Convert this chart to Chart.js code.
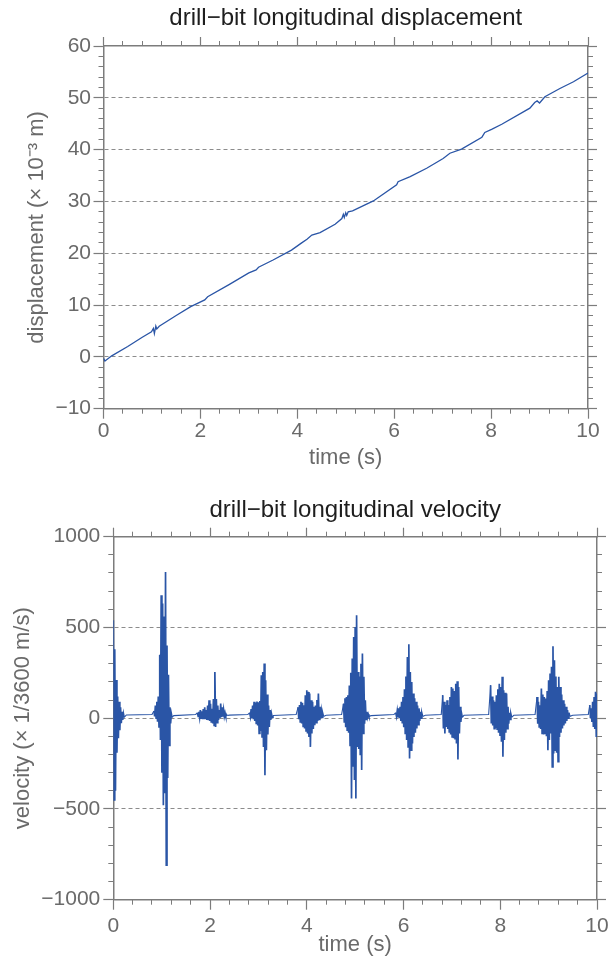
<!DOCTYPE html>
<html><head><meta charset="utf-8">
<script src="https://cdn.jsdelivr.net/npm/chart.js@4"></script>
<style>html,body{margin:0;padding:0;background:#fff;}canvas{display:block;}</style>
</head><body>
<canvas id="c1" width="609" height="480"></canvas>
<canvas id="c2" width="609" height="480"></canvas>
<script>
// ---------- displacement (x 10^-3 m) vs time (s) ----------
const dispTime  = [0, 0.03, 0.17, 0.5, 0.8, 0.99, 1.03, 1.05, 1.08, 1.1, 1.15, 1.5, 1.8, 2.09, 2.15, 2.6, 3.0, 3.15, 3.2, 3.5, 3.88, 4.09, 4.2, 4.3, 4.47, 4.78, 4.92, 4.95, 4.97, 5.0, 5.02, 5.05, 5.14, 5.57, 6.05, 6.08, 6.33, 6.67, 7.01, 7.15, 7.39, 7.81, 7.87, 8.01, 8.22, 8.8, 8.9, 8.95, 9.0, 9.11, 9.42, 9.7, 10.0];
const dispValue = [-0.3, -0.8, 0.2, 2.0, 3.8, 4.85, 5.5, 4.5, 5.95, 5.4, 5.9, 8.0, 9.7, 11.0, 11.6, 14.0, 16.2, 16.8, 17.3, 18.7, 20.6, 22.0, 22.7, 23.5, 24.0, 25.6, 26.7, 27.5, 26.9, 27.8, 27.3, 28.0, 28.2, 30.1, 33.2, 33.8, 34.8, 36.4, 38.3, 39.3, 40.1, 42.4, 43.3, 43.9, 44.9, 48.0, 49.1, 49.4, 49.0, 50.2, 51.8, 53.1, 54.8];

// ---------- velocity (x 1/3600 m/s): envelope of each vibration burst ----------
const sampleStep = 0.03;
const burstStart = [0.0, 0.84, 1.74, 2.82, 3.82, 4.76, 5.84, 6.81, 7.80, 8.76, 9.85];
const burstHigh = [
  [540, 380, 210, 120, 90, 60, 35, 25],
  [40, 70, 90, 120, 350, 678, 632, 560, 806, 400, 240, 60, 25],
  [30, 35, 45, 38, 50, 60, 45, 70, 99, 80, 52, 105, 255, 105, 70, 45, 81, 60, 45, 30, 18],
  [30, 50, 70, 90, 85, 92, 88, 95, 237, 255, 301, 209, 130, 70, 45, 25],
  [60, 72, 90, 85, 72, 127, 154, 145, 136, 99, 90, 63, 70, 100, 136, 63, 40, 26],
  [80, 110, 117, 127, 180, 250, 329, 448, 503, 567, 255, 230, 300, 356, 228, 99, 35, 22],
  [30, 40, 55, 63, 90, 117, 160, 230, 337, 408, 255, 200, 136, 110, 90, 70, 54, 35, 26],
  [127, 90, 72, 99, 72, 117, 172, 163, 150, 190, 204, 172, 63, 26],
  [182, 120, 99, 90, 127, 160, 190, 172, 228, 154, 140, 136, 63, 30, 22],
  [117, 90, 72, 163, 130, 117, 108, 150, 209, 246, 283, 397, 319, 230, 172, 228, 172, 130, 99, 80, 63, 45, 30],
  [72, 54, 90, 117, 145, 136]
];
const burstLow = [
  [-450, -400, -190, -110, -66, -28, -10, 5],
  [10, 0, -20, -48, -120, -300, -479, -414, -810, -330, -150, -29, 5],
  [10, 5, 0, -5, -6, -5, -10, -11, -15, -20, -29, -40, -48, -25, -10, 0, 5, 8, 10, 12, 15],
  [10, 0, -6, -15, -29, -40, -84, -70, -103, -158, -314, -176, -90, -48, -10, 5],
  [-6, -20, -29, -45, -57, -70, -84, -103, -158, -84, -60, -39, -25, -15, -6, 0, 5, 10],
  [-20, -50, -66, -80, -150, -443, -268, -341, -443, -158, -170, -200, -286, -84, -30, -6, 5, 10],
  [10, 5, 0, -15, -29, -50, -84, -120, -158, -222, -176, -140, -103, -80, -57, -35, -15, 0, 10],
  [-57, -84, -48, -60, -75, -90, -103, -110, -112, -139, -228, -84, -20, 5],
  [-29, -40, -57, -55, -60, -80, -94, -130, -213, -120, -80, -57, -30, -6, 5],
  [-30, -48, -60, -84, -90, -84, -100, -176, -120, -84, -268, -194, -176, -190, -240, -103, -80, -57, -40, -29, -15, 0, 10],
  [0, -20, -48, -60, -103, -80]
];
const quietTime = [0.27, 0.8, 1.25, 1.7, 2.4, 2.78, 3.3, 3.78, 4.4, 4.72, 5.33, 5.8, 6.45, 6.78, 7.25, 7.76, 8.28, 8.72, 9.5, 9.82];
const quietVel  = [18, 20, 14, 20, 17, 20, 15, 20, 16, 20, 14, 20, 16, 20, 16, 20, 16, 20, 16, 20];

// ---------- styling ----------
const FONT = "'Liberation Sans', Arial, Helvetica, sans-serif";
const GRAY = '#6a6a6a';
const FRAME = '#7c7c7c';
const DASH = '#8c8c8c';
const BLUE = '#2a55a6';
const TITLE = '#1e1e1e';

function fmt(v) { return String(v).replace('-', '\u2212'); }

function buildScales(o) {
  const hide = 'rgba(0,0,0,0)';
  return {
    x: {
      type: 'linear', position: 'bottom', weight: 1, min: o.xmin, max: o.xmax,
      ticks: { stepSize: o.xstep, maxTicksLimit: 200, autoSkip: false, maxRotation: 0, color: GRAY,
               font: { family: FONT, size: 21 }, padding: o.xpad, callback: v => fmt(v) },
      grid: { drawOnChartArea: false, tickLength: 10, tickColor: FRAME, tickWidth: 1.2 },
      border: { display: true, color: FRAME, width: 1.5 },
      title: { display: true, text: 'time (s)', color: GRAY, font: { family: FONT, size: 22 },
               padding: { top: 0, bottom: o.xTitleBottom } },
      afterFit: s => { s.height = o.bottomH; s.paddingLeft = 0; s.paddingRight = 0; }
    },
    xMinor: {
      type: 'linear', position: 'bottom', weight: 0, min: o.xmin, max: o.xmax,
      ticks: { display: false, stepSize: o.xminor, maxTicksLimit: 200 },
      grid: { drawOnChartArea: false, tickLength: 5, tickColor: FRAME, tickWidth: 1 },
      border: { display: false },
      afterFit: s => { s.height = 0; s.paddingLeft = 0; s.paddingRight = 0; }
    },
    xTop: {
      type: 'linear', position: 'top', weight: 1, min: o.xmin, max: o.xmax,
      ticks: { display: false, stepSize: o.xstep, maxTicksLimit: 200 },
      grid: { drawOnChartArea: false, tickLength: 9, tickColor: FRAME, tickWidth: 1.2 },
      border: { display: true, color: FRAME, width: 1.5 },
      afterFit: s => { s.height = 0; s.paddingLeft = 0; s.paddingRight = 0; }
    },
    xTopMinor: {
      type: 'linear', position: 'top', weight: 0, min: o.xmin, max: o.xmax,
      ticks: { display: false, stepSize: o.xminor, maxTicksLimit: 200 },
      grid: { drawOnChartArea: false, tickLength: 5, tickColor: FRAME, tickWidth: 1 },
      border: { display: false },
      afterFit: s => { s.height = 0; s.paddingLeft = 0; s.paddingRight = 0; }
    },
    y: {
      type: 'linear', position: 'left', weight: 1, min: o.ymin, max: o.ymax,
      ticks: { stepSize: o.ystep, maxTicksLimit: 200, autoSkip: false, color: GRAY,
               font: { family: FONT, size: 21 }, padding: o.ypad, callback: v => fmt(v) },
      grid: { drawOnChartArea: true, lineWidth: 1,
              color: c => (c.tick && (c.tick.value === o.ymin || c.tick.value === o.ymax)) ? hide : DASH,
              tickLength: 10, tickColor: FRAME, tickWidth: 1.2 },
      border: { display: true, color: FRAME, width: 1.5, dash: [4, 3] },
      title: { display: true, text: o.yTitle, color: GRAY, font: { family: FONT, size: 22 },
               padding: { top: o.yTitleTop, bottom: 0 } },
      afterFit: s => { s.width = o.leftW; }
    },
    yMinor: {
      type: 'linear', position: 'left', weight: 0, min: o.ymin, max: o.ymax,
      ticks: { display: false, stepSize: o.yminor, maxTicksLimit: 200 },
      grid: { drawOnChartArea: false, tickLength: 5, tickColor: FRAME, tickWidth: 1 },
      border: { display: false },
      afterFit: s => { s.width = 0; }
    },
    yRight: {
      type: 'linear', position: 'right', weight: 1, min: o.ymin, max: o.ymax,
      ticks: { display: false, stepSize: o.ystep, maxTicksLimit: 200 },
      grid: { drawOnChartArea: false, tickLength: 9, tickColor: FRAME, tickWidth: 1.2 },
      border: { display: true, color: FRAME, width: 1.5 },
      afterFit: s => { s.width = o.rightW; }
    },
    yRightMinor: {
      type: 'linear', position: 'right', weight: 0, min: o.ymin, max: o.ymax,
      ticks: { display: false, stepSize: o.yminor, maxTicksLimit: 200 },
      grid: { drawOnChartArea: false, tickLength: 5, tickColor: FRAME, tickWidth: 1 },
      border: { display: false },
      afterFit: s => { s.width = 0; }
    }
  };
}

function makeChart(id, title, titlePad, data, lineWidth, segWidth, o) {
  return new Chart(document.getElementById(id), {
    type: 'line',
    data: { datasets: [{ data: data, borderColor: BLUE, borderWidth: lineWidth, pointRadius: 0,
                         tension: 0, fill: false, xAxisID: 'x', yAxisID: 'y',
                         segment: segWidth ? { borderWidth: segWidth } : undefined }] },
    options: {
      responsive: false, animation: false, devicePixelRatio: 1,
      layout: { padding: 0 },
      plugins: {
        legend: { display: false }, tooltip: { enabled: false },
        title: { display: true, text: title, color: TITLE, fullSize: false,
                 font: { family: FONT, size: 24, weight: 'normal', lineHeight: 1.2 },
                 padding: titlePad }
      },
      scales: buildScales(o)
    }
  });
}

// top chart
const dispPoints = dispTime.map((t, i) => ({ x: t, y: dispValue[i] }));
makeChart('c1', 'drill\u2212bit longitudinal displacement', { top: 4.2, bottom: 13 }, dispPoints, 1.3, null, {
  xmin: 0, xmax: 10, xstep: 2, xminor: 0.4, ymin: -10, ymax: 60, ystep: 10, yminor: 2,
  leftW: 103.5, rightW: 21, bottomH: 71.3, xpad: 0, ypad: 2.5, xTitleBottom: 8.8,
  yTitle: 'displacement (\u00d7 10\u207b\u00b3 m)', yTitleTop: 23.8
});

// bottom chart
const velPoints = [];
burstStart.forEach((t0, b) => {
  burstHigh[b].forEach((h, i) => {
    const t = t0 + i * sampleStep;
    velPoints.push({ x: t, y: h });
    velPoints.push({ x: t + sampleStep / 2, y: burstLow[b][i] });
  });
});
quietTime.forEach((t, i) => velPoints.push({ x: t, y: quietVel[i] }));
velPoints.sort((a, b) => a.x - b.x);

// thinner stroke on the long quiet stretches between bursts
const quietSegment = ctx => (ctx.p1.parsed.x - ctx.p0.parsed.x > 0.02) ? 1.1 : 1.7;

makeChart('c2', 'drill\u2212bit longitudinal velocity', { top: 16.2, bottom: 11.7 }, velPoints, 1.7, quietSegment, {
  xmin: 0, xmax: 10, xstep: 2, xminor: 0.4, ymin: -1000, ymax: 1000, ystep: 500, yminor: 100,
  leftW: 113.3, rightW: 12, bottomH: 60.3, xpad: 4, ypad: 3, xTitleBottom: 1.8,
  yTitle: 'velocity (\u00d7 1/3600 m/s)', yTitleTop: 9.3
});
</script>
</body></html>
